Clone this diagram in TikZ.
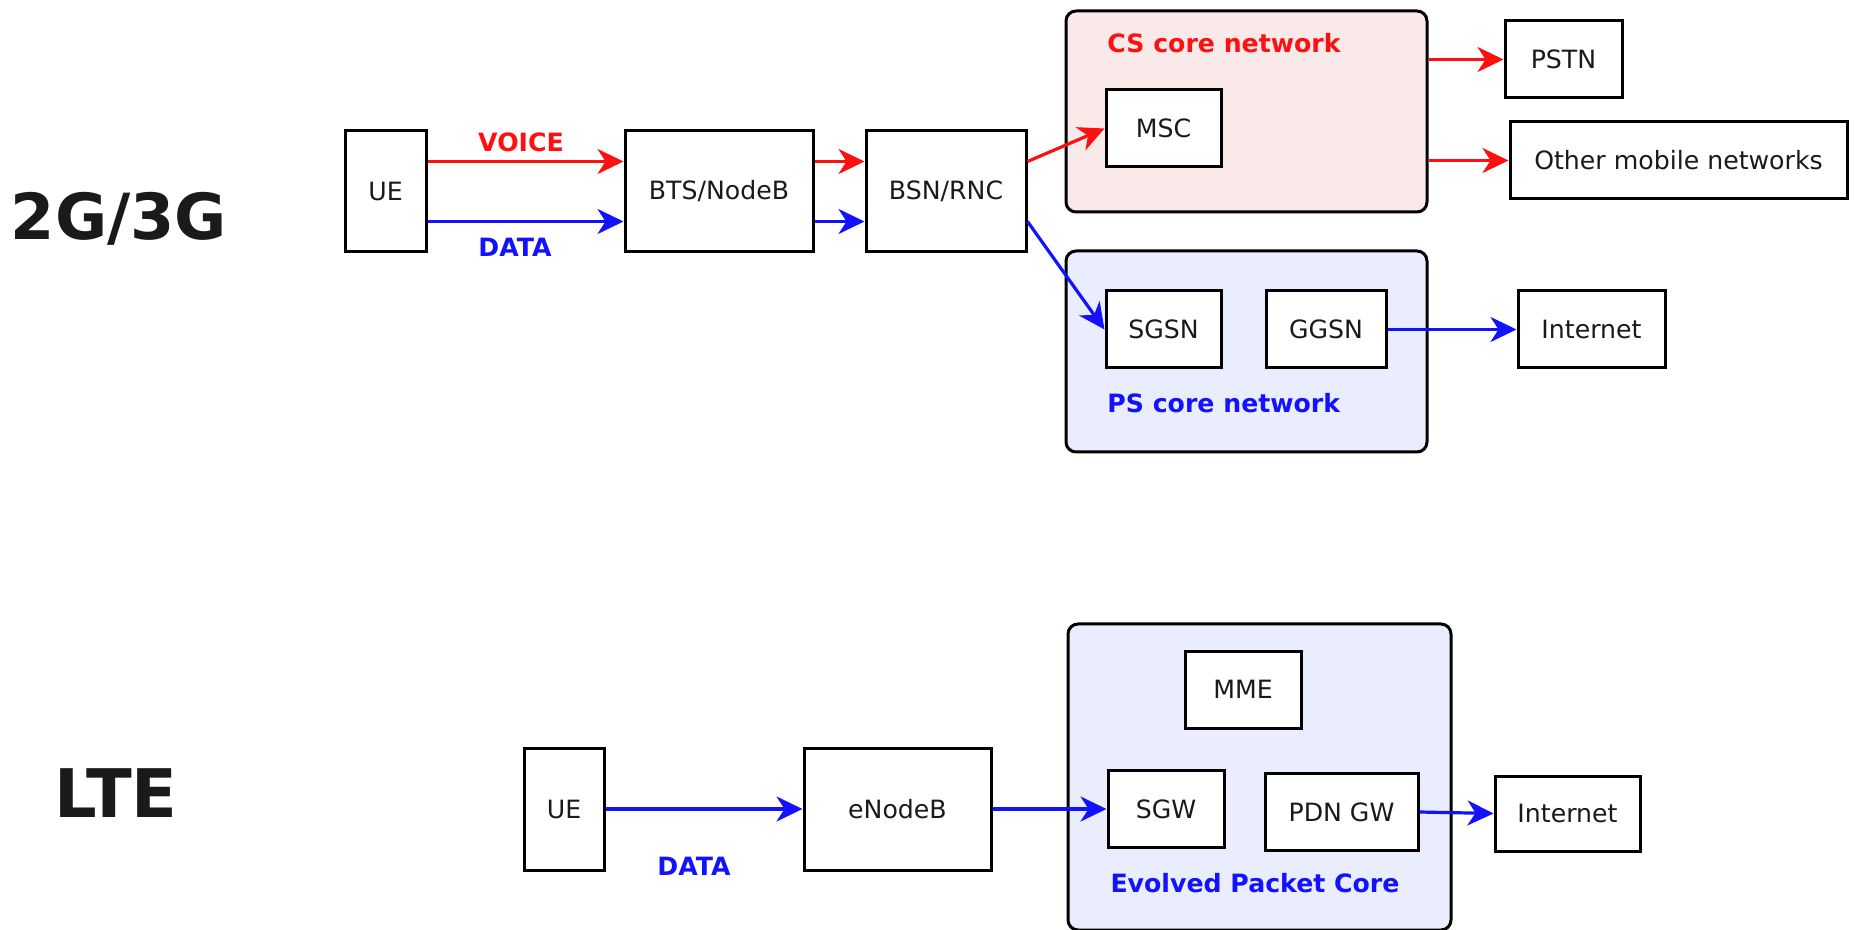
\documentclass[tikz,border=0pt]{standalone}
\usepackage{xcolor}
\usepackage{fontspec}
\setmainfont{DejaVu Sans}
\usepackage{tikz}
\usetikzlibrary{arrows.meta}
\definecolor{voice}{HTML}{FF1010}
\definecolor{data}{HTML}{1212FF}
\definecolor{cspink}{HTML}{F9E9E9}
\definecolor{psblue}{HTML}{E9EDFD}
\definecolor{ink}{HTML}{1A1A1A}
\newcommand{\netfont}{\fontsize{12.6}{15}\selectfont}

\begin{document}
\begin{tikzpicture}[x=0.5pt,y=-0.5pt,
   box/.style={draw, line width=1.5pt, fill=white, text=ink, font=\netfont,
     minimum width=#1, minimum height=38.5pt, inner sep=0pt},
   box/.default=57.5pt,
   core/.style={draw, line width=1.5pt, rounded corners=5pt, inner sep=0pt},
   link/.style={line width=1.6pt, -{Stealth[length=13pt,width=12.5pt,inset=4pt]}},
   tag/.style={font=\netfont\bfseries, inner sep=0pt},
   gen/.style={font=\fontsize{#1}{36}\selectfont\bfseries, text=ink}]
   \useasboundingbox (0,0) rectangle (1854,930);

   % 2G/3G
   \node[gen=31.8] (g23) at (119,219) {2G/3G};
   \node[core, fill=cspink, minimum width=180.5pt, minimum height=100.5pt] (cs) at (1246.5,111.5) {};
   \node[core, fill=psblue, minimum width=180.5pt, minimum height=100.5pt] (ps) at (1246.5,351.5) {};
   \node[box=40.5pt, minimum height=60.5pt] (ue2) at (385.5,191.5) {UE};
   \node[box=94pt, minimum height=60.5pt] (bts) at (719,191.5) {BTS/NodeB};
   \node[box=80pt, minimum height=60.5pt] (bsn) at (946,191.5) {BSN/RNC};
   \node[box] (msc) at (1163.5,128.5) {MSC};
   \node[box] (sgsn) at (1163.5,329.5) {SGSN};
   \node[box=60pt] (ggsn) at (1326,329.5) {GGSN};
   \node[box=58.5pt] (pstn) at (1563.5,59.5) {PSTN};
   \node[box=168.5pt] (other) at (1678.5,160.5) {Other mobile networks};
   \node[box=73.5pt] (inet2) at (1591.5,329.5) {Internet};
   \node[tag, text=voice, anchor=west] (cstag) at (1107,43) {CS core network};
   \node[tag, text=data, anchor=west] (pstag) at (1107,403) {PS core network};
   \node[tag, text=voice] (vtag) at (521,142) {VOICE};
   \node[tag, text=data] (dtag) at (515,247) {DATA};

   \draw[link, voice] ([yshift=15pt]ue2.east) -- ([yshift=15pt]bts.west);
   \draw[link, data] ([yshift=-15pt]ue2.east) -- ([yshift=-15pt]bts.west);
   \draw[link, voice] ([yshift=15pt]bts.east) -- ([yshift=15pt]bsn.west);
   \draw[link, data] ([yshift=-15pt]bts.east) -- ([yshift=-15pt]bsn.west);
   \draw[link, voice] ([yshift=15pt]bsn.east) -- (msc.west);
   \draw[link, data] ([yshift=-15pt]bsn.east) -- (sgsn.west);
   \draw[link, voice] (cs.east |- pstn.west) -- (pstn.west);
   \draw[link, voice] (cs.east |- other.west) -- (other.west);
   \draw[link, data] (ggsn.east) -- (inet2.west);

   % LTE
   \node[gen=33.5] (lte) at (116,793) {LTE};
   \node[core, fill=psblue, minimum width=191.5pt, minimum height=153pt] (epc) at (1259.5,777) {};
   \node[box=40pt, minimum height=61pt] (ue4) at (564,809) {UE};
   \node[box=93.5pt, minimum height=61pt] (enb) at (897.5,809) {eNodeB};
   \node[box=58pt] (mme) at (1243,689.5) {MME};
   \node[box=58pt] (sgw) at (1166,809) {SGW};
   \node[box=76.5pt] (pdn) at (1341.5,812) {PDN GW};
   \node[box=72.5pt, minimum height=37.5pt] (inet4) at (1567.5,813.5) {Internet};
   \node[tag, text=data] (dtag4) at (694,866) {DATA};
   \node[tag, text=data] (epctag) at (1255,883) {Evolved Packet Core};

   \draw[link, data] (ue4) -- (enb);
   \draw[link, data] (enb.east) -- (sgw.west);
   \draw[link, data] (pdn.east) -- (inet4.west);
\end{tikzpicture}
\end{document}
